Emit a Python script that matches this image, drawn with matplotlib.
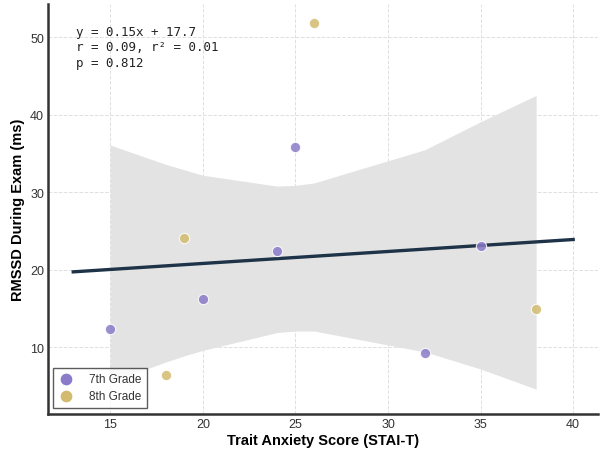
import numpy as np
import matplotlib.pyplot as plt

# Trait anxiety (x) and RMSSD during exam (y) per grade.
grade7_anxiety = [15, 20, 24, 25, 32, 35]
grade7_rmssd = [12.3, 16.2, 22.4, 35.8, 9.2, 23.1]
grade8_anxiety = [18, 19, 26, 38]
grade8_rmssd = [6.4, 24.1, 51.8, 14.9]

band_x = [15, 18, 19, 20, 24, 25, 26, 32, 35, 38]
band_upper = [36.1, 33.6, 32.9, 32.2, 30.8, 30.9, 31.2, 35.5, 39.1, 42.5]
band_lower = [5.5, 8.1, 8.9, 9.6, 11.9, 12.1, 12.1, 9.4, 7.2, 4.6]

stats_text = "y = 0.15x + 17.7\nr = 0.09, r² = 0.01\np = 0.812"

purple = "#8a7bc8"
gold = "#d2bb6e"
line_color = "#1e3348"

plt.rcParams["font.family"] = ["Liberation Sans", "DejaVu Sans"]

fig = plt.figure(figsize=(6.03, 4.52), dpi=100)
ax = fig.add_axes([0.080, 0.082, 0.912, 0.907])

# Grid first so everything sits on top of it.
ax.grid(True, linestyle="--", color="#e0e0e0", linewidth=0.7)
ax.set_axisbelow(True)

ax.fill_between(band_x, band_lower, band_upper, color="#e3e3e3", linewidth=0, zorder=1)

# Fit line over all points, drawn a little past the data range.
all_x = np.array(grade7_anxiety + grade8_anxiety)
all_y = np.array(grade7_rmssd + grade8_rmssd)
slope, intercept = np.polyfit(all_x, all_y, 1)
line_x = np.array([all_x.min() - 2, all_x.max() + 2])
ax.plot(line_x, slope * line_x + intercept, color=line_color, linewidth=2.4, zorder=2)

ax.scatter(grade7_anxiety, grade7_rmssd, s=55, color=purple, alpha=0.85,
           edgecolor="white", linewidth=0.8, label="7th Grade", zorder=3)
ax.scatter(grade8_anxiety, grade8_rmssd, s=55, color=gold, alpha=0.85,
           edgecolor="white", linewidth=0.8, label="8th Grade", zorder=3)

ax.text(0.051, 0.948, stats_text, transform=ax.transAxes, va="top", ha="left",
        fontsize=9, family="DejaVu Sans Mono", color="#222222", linespacing=1.22)

ax.set_xlim(11.65, 41.35)
ax.set_ylim(1.4, 54.3)
ax.set_xticks([15, 20, 25, 30, 35, 40])
ax.set_yticks([10, 20, 30, 40, 50])
ax.tick_params(length=0, labelsize=9, labelcolor="#333333", pad=3)

ax.set_xlabel("Trait Anxiety Score (STAI-T)", fontsize=10.5, fontweight="bold", labelpad=2)
ax.set_ylabel("RMSSD During Exam (ms)", fontsize=10.5, fontweight="bold", labelpad=4)

for side in ["top", "right"]:
    ax.spines[side].set_visible(False)
for side in ["left", "bottom"]:
    ax.spines[side].set_color("#333333")
    ax.spines[side].set_linewidth(1.8)

leg = ax.legend(loc="lower left", fontsize=8.5, frameon=True, fancybox=False,
                edgecolor="#333333", borderpad=0.45, handlelength=1.2,
                handletextpad=1.4, borderaxespad=0, labelspacing=0.45,
                markerscale=1.25, bbox_to_anchor=(0.009, 0.015))
leg.get_frame().set_linewidth(1.0)
for h in leg.legend_handles:
    h.set_alpha(1)
for t in leg.get_texts():
    t.set_color("#333333")

fig.savefig("out.png", dpi=100)
